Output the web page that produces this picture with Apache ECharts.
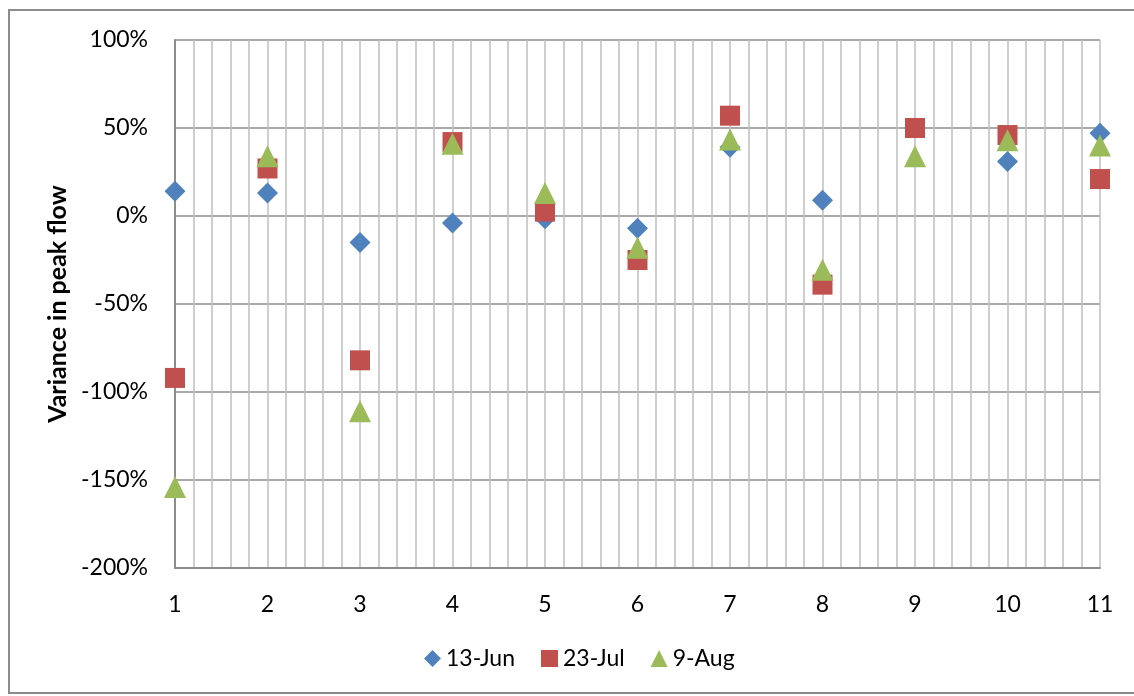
<!DOCTYPE html>
<html>
<head>
<meta charset="utf-8">
<script src="https://cdn.jsdelivr.net/npm/echarts@6/dist/echarts.min.js"></script>
<style>
html,body{margin:0;padding:0;background:#fff;}
#frame{position:absolute;left:8px;top:9px;width:1130px;height:685px;border:2px solid #8c8c8c;box-sizing:border-box;}
#chart{position:absolute;left:0;top:0;width:1134px;height:696px;}
</style>
</head>
<body>
<div id="frame"></div>
<div id="chart"></div>
<script>
var categories = [1, 2, 3, 4, 5, 6, 7, 8, 9, 10, 11];
var seriesNames = ['13-Jun', '23-Jul', '9-Aug'];
var jun13 = [14, 13, -15, -4, -1.5, -7, 39, 9, 50, 31, 47];
var jul23 = [-92, 27, -82, 42, 2.5, -25, 57, -39, 50, 46, 21];
var aug9 = [-154, 34, -111, 41, 13, -18, 43.5, -30.5, 34, 43, 40];
var yTicks = [-200, -150, -100, -50, 0, 50, 100];

function pts(vals){ return categories.map(function(c,i){ return [c, vals[i]]; }); }

var font = 'Lato, "Liberation Sans", sans-serif';
var chart = echarts.init(document.getElementById('chart'), null, {renderer:'canvas'});
chart.setOption({
  animation: false,
  backgroundColor: 'transparent',
  grid: {left: 175, right: 34, top: 40, bottom: 128, containLabel: false},
  legend: {
    bottom: 21, left: 419,
    itemWidth: 17, itemHeight: 17, itemGap: 26,
    textStyle: {fontFamily: font, fontSize: 23, color: '#000'},
    data: [
      {name: seriesNames[0], icon: 'diamond'},
      {name: seriesNames[1], icon: 'rect'},
      {name: seriesNames[2], icon: 'triangle'}
    ]
  },
  xAxis: {
    type: 'value', min: 1, max: 11, interval: 1,
    axisLine: {show: true, onZero: false, lineStyle: {color: '#8c8c8c', width: 2}},
    axisTick: {show: false},
    axisLabel: {fontFamily: font, fontSize: 23, color: '#000', margin: 25},
    splitLine: {show: true, lineStyle: {color: '#bfbfbf', width: 1.5}},
    minorTick: {show: false, splitNumber: 5},
    minorSplitLine: {show: true, lineStyle: {color: '#bfbfbf', width: 1.5}}
  },
  yAxis: {
    type: 'value', min: yTicks[0], max: yTicks[yTicks.length-1], interval: 50,
    name: 'Variance in peak flow', nameLocation: 'middle', nameGap: 102,
    nameTextStyle: {fontFamily: font, fontSize: 25, fontWeight: 'bold', color: '#000'},
    axisLine: {show: true, lineStyle: {color: '#8c8c8c', width: 2}},
    axisTick: {show: false},
    axisLabel: {fontFamily: font, fontSize: 23, color: '#000', margin: 27, formatter: function(v){ return v + '%'; }},
    splitLine: {show: true, lineStyle: {color: '#8c8c8c', width: 1.5}}
  },
  series: [
    {name: seriesNames[0], type: 'scatter', symbol: 'diamond', symbolSize: 21, data: pts(jun13), itemStyle: {color: '#4F81BD', opacity: 1}},
    {name: seriesNames[1], type: 'scatter', symbol: 'rect', symbolSize: 20, data: pts(jul23), itemStyle: {color: '#C0504D', opacity: 1}},
    {name: seriesNames[2], type: 'scatter', symbol: 'triangle', symbolSize: 22, data: pts(aug9), itemStyle: {color: '#9BBB59', opacity: 1}}
  ]
});
</script>
</body>
</html>
